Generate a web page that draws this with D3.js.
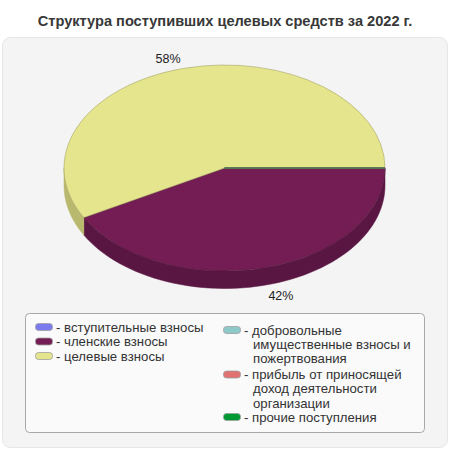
<!DOCTYPE html>
<html lang="ru">
<head>
    <meta charset="utf-8">
    <title>Структура поступивших целевых средств</title>
    <style>
        body {
            margin: 0;
            padding: 0;
            background: #fff;
            font-family: "Liberation Sans", Arial, sans-serif;
        }
    </style>
    <script src="https://d3js.org/d3.v7.min.js"></script>
</head>
<body>
    <div id="chart"></div>

    <script>
        // data
        const categories = ['вступительные взносы', 'членские взносы', 'целевые взносы',
                            'добровольные имущественные взносы и пожертвования',
                            'прибыль от приносящей доход деятельности организации',
                            'прочие поступления'];
        const values = [0, 42, 58, 0, 0, 0];
        const colors = ['#7b7bef', '#741d54', '#e5e58d', '#8ec9c9', '#e07272', '#009933'];
        const sideColors = ['#5e5eb8', '#5a1642', '#b9b86f', '#6fa0a0', '#b25a5a', '#1b7a2a'];
        // legend text split as in the picture
        const legendLines = [
            ['вступительные взносы'],
            ['членские взносы'],
            ['целевые взносы'],
            ['добровольные', 'имущественные взносы и', 'пожертвования'],
            ['прибыль от приносящей', 'доход деятельности', 'организации'],
            ['прочие поступления']
        ];

        const width = 450, height = 450;
        const cx = 224.5, cy = 168, rx = 160.5, ry = 103, depth = 17.5;

        const svg = d3.select('#chart').append('svg')
            .attr('width', width)
            .attr('height', height);

        svg.append('text')
            .attr('x', width / 2)
            .attr('y', 26)
            .attr('text-anchor', 'middle')
            .style('font-size', '14.6px')
            .style('font-weight', 'bold')
            .style('fill', '#383838')
            .text('Структура поступивших целевых средств за 2022 г.');

        svg.append('rect')
            .attr('x', 2.5).attr('y', 37.5)
            .attr('width', 445).attr('height', 410)
            .attr('rx', 8)
            .style('fill', '#f4f4f4')
            .style('stroke', '#e6e6e6');

        // angles clockwise from 3 o'clock
        const total = d3.sum(values);
        const angle = d3.scaleLinear().domain([0, total]).range([0, 2 * Math.PI]);
        let acc = 0;
        const slices = values.map((v, i) => {
            const s = { i: i, a0: angle(acc), a1: angle(acc + v), v: v };
            acc += v;
            return s;
        });

        const px = a => cx + rx * Math.cos(a);
        const py = a => cy + ry * Math.sin(a);

        const g = svg.append('g');

        // side walls (only the front half, sin > 0)
        slices.filter(s => s.v > 0).forEach(s => {
            const a0 = Math.max(s.a0, 0), a1 = Math.min(s.a1, Math.PI);
            if (a1 <= a0) return;
            const pts = d3.range(0, 61).map(k => a0 + (a1 - a0) * k / 60);
            let d = 'M' + px(a0) + ',' + py(a0);
            pts.forEach(a => { d += 'L' + px(a) + ',' + py(a); });
            pts.slice().reverse().forEach(a => { d += 'L' + px(a) + ',' + (py(a) + depth); });
            d += 'Z';
            g.append('path')
                .attr('d', d)
                .style('fill', sideColors[s.i])
                .style('stroke', sideColors[s.i])
                .style('stroke-width', 0.5);
        });

        // top faces
        slices.filter(s => s.v > 0).forEach(s => {
            const large = (s.a1 - s.a0) > Math.PI ? 1 : 0;
            const d = 'M' + cx + ',' + cy
                + 'L' + px(s.a0) + ',' + py(s.a0)
                + 'A' + rx + ',' + ry + ' 0 ' + large + ' 1 ' + px(s.a1) + ',' + py(s.a1)
                + 'Z';
            g.append('path')
                .attr('d', d)
                .style('fill', colors[s.i])
                .style('stroke', d3.color(sideColors[s.i]).darker(0.3))
                .style('stroke-width', 0.6);
        });

        // zero slices drawn as a radius line (last one on top)
        slices.filter(s => s.v === 0).forEach(s => {
            g.append('line')
                .attr('x1', cx).attr('y1', cy)
                .attr('x2', px(s.a0)).attr('y2', py(s.a0))
                .style('stroke', sideColors[s.i])
                .style('stroke-width', 1);
        });

        // percentage labels
        slices.filter(s => s.v > 0).forEach(s => {
            const m = (s.a0 + s.a1) / 2;
            const c = Math.cos(m), sn = Math.sin(m);
            const x = cx + rx * 1.1 * c;
            const y = cy + ry * 1.1 * sn + (sn > 0 ? depth : 0);
            svg.append('text')
                .attr('x', x)
                .attr('y', y)
                .attr('dy', '0.35em')
                .attr('text-anchor', c < 0 ? 'end' : 'start')
                .style('font-size', '12.5px')
                .style('fill', '#222')
                .text(d3.format('.0f')(s.v / total * 100) + '%');
        });

        // legend
        const legend = svg.append('g');
        legend.append('rect')
            .attr('x', 25.5).attr('y', 313.5)
            .attr('width', 399).attr('height', 119)
            .attr('rx', 4)
            .style('fill', '#fafafa')
            .style('stroke', '#a8a8a8');

        const colX = [35, 223];
        const rowY = [327, 341.5, 356, 330, 374.5, 417];
        const lineH = 14.2;

        categories.forEach((c, i) => {
            const x = colX[i < 3 ? 0 : 1];
            const y = rowY[i];
            legend.append('rect')
                .attr('x', x + 0.5).attr('y', y - 3.5)
                .attr('width', 17).attr('height', 7)
                .attr('rx', 3)
                .style('fill', colors[i])
                .style('stroke', '#a0a0a0')
                .style('stroke-width', 0.8);
            const t = legend.append('text')
                .attr('x', x + 21)
                .attr('y', y)
                .attr('dy', '0.35em')
                .style('font-size', '13.2px')
                .style('fill', '#333');
            legendLines[i].forEach((ln, k) => {
                if (k === 0) {
                    t.append('tspan').text('- ' + ln);
                } else {
                    t.append('tspan')
                        .attr('x', x + 30)
                        .attr('dy', lineH)
                        .text(ln);
                }
            });
        });
    </script>
</body>
</html>
